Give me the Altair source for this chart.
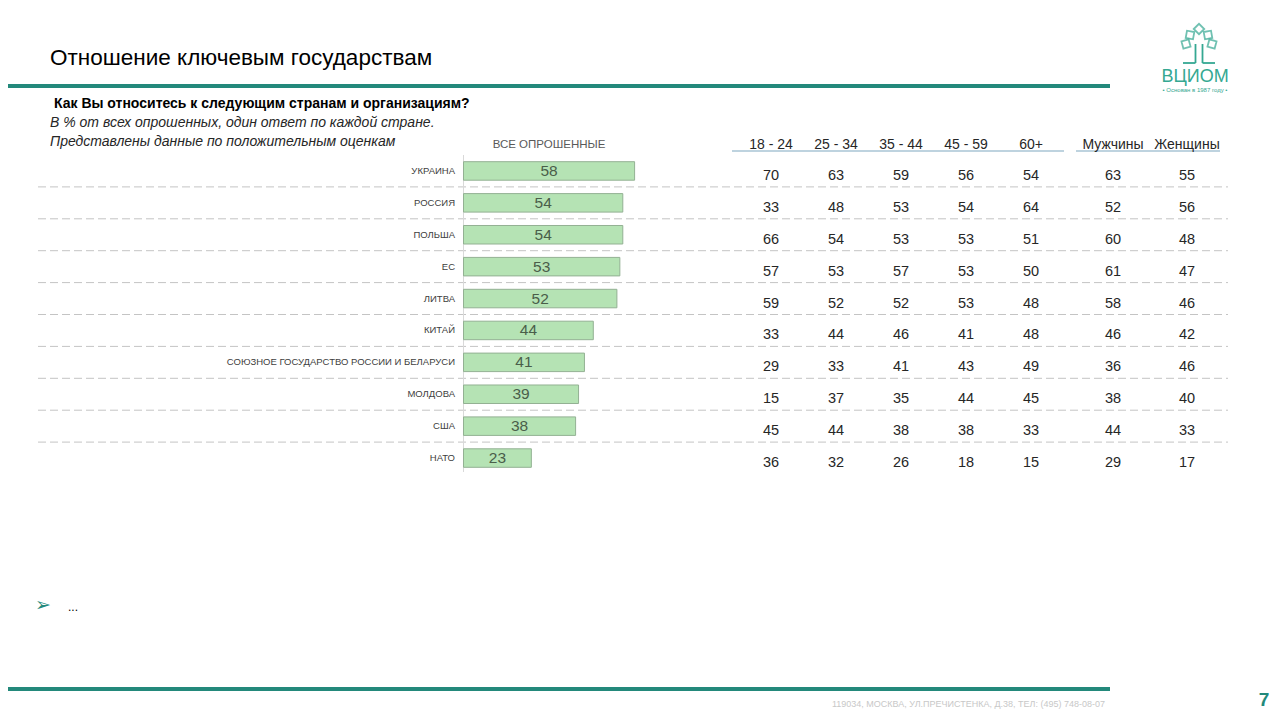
import altair as alt
import pandas as pd

# ---------------- data ----------------
countries = ["Украина", "Россия", "Польша", "ЕС", "Литва", "Китай",
             "Союзное государство России и Беларуси", "Молдова", "США", "НАТО"]
total = [58, 54, 54, 53, 52, 44, 41, 39, 38, 23]

age_groups = ["18 - 24", "25 - 34", "35 - 44", "45 - 59", "60+"]
age_18_24 = [70, 33, 66, 57, 59, 33, 29, 15, 45, 36]
age_25_34 = [63, 48, 54, 53, 52, 44, 33, 37, 44, 32]
age_35_44 = [59, 53, 53, 57, 52, 46, 41, 35, 38, 26]
age_45_59 = [56, 54, 53, 53, 53, 41, 43, 44, 38, 18]
age_60p = [54, 64, 51, 50, 48, 48, 49, 45, 33, 15]

sex_groups = ["Мужчины", "Женщины"]
men = [63, 52, 60, 61, 58, 46, 36, 38, 44, 29]
women = [55, 56, 48, 47, 46, 42, 46, 40, 33, 17]

title = "Отношение ключевым государствам"
question = "Как Вы относитесь к следующим странам и организациям?"
note1 = "В % от всех опрошенных, один ответ по каждой стране."
note2 = "Представлены данные по положительным оценкам"
total_header = "ВСЕ ОПРОШЕННЫЕ"
footer = "119034,  МОСКВА, УЛ.ПРЕЧИСТЕНКА, Д.38, ТЕЛ: (495) 748-08-07"

# ---------------- tables ----------------
df = pd.DataFrame({"country": countries, "total": total})
age_cols = [age_18_24, age_25_34, age_35_44, age_45_59, age_60p]
age_df = pd.DataFrame([
    {"country": c, "group": g, "value": col[i]}
    for g, col in zip(age_groups, age_cols)
    for i, c in enumerate(countries)
])
sex_df = pd.DataFrame([
    {"country": c, "group": g, "value": col[i]}
    for g, col in zip(sex_groups, [men, women])
    for i, c in enumerate(countries)
])
sep_df = pd.DataFrame({"country": countries[:-1]})
one = pd.DataFrame({"a": [0]})

FONT = "Liberation Sans"
TEAL = "#23897b"
LOGO = "#35a892"
O = 8  # page margin offset

yscale = alt.Scale(domain=countries, range=[147, 466], paddingInner=0.42, paddingOuter=0.21)
xbar = alt.Scale(domain=[0, 100], range=[455.5, 750.5])
xage = alt.Scale(type="point", domain=age_groups, range=[763, 1023], padding=0)
xsex = alt.Scale(type="point", domain=sex_groups, range=[1105, 1179], padding=0)
Y = alt.Y("country:N", scale=yscale, axis=None)


def hrule(x1, x2, y, color, width, dash=None):
    kw = dict(color=color, strokeWidth=width)
    if dash:
        kw["strokeDash"] = dash
    return alt.Chart(one).mark_rule(**kw).encode(
        x=alt.value(x1 - O), x2=alt.value(x2 - O), y=alt.value(y - O))


def vrule(x, y1, y2, color, width):
    return alt.Chart(one).mark_rule(color=color, strokeWidth=width).encode(
        x=alt.value(x - O), y=alt.value(y1 - O), y2=alt.value(y2 - O))


def txt(text, x, y, size, color="#000000", align="left", font=FONT,
        weight="normal", style="normal", baseline="alphabetic"):
    return alt.Chart(one).mark_text(
        text=text, align=align, baseline=baseline, fontSize=size, font=font,
        fontWeight=weight, fontStyle=style, color=color
    ).encode(x=alt.value(x - O), y=alt.value(y - O))


layers = []

# header texts & lines
layers += [
    txt(title, 50, 65, 22.5, "#000000"),
    hrule(0, 1110, 86, TEAL, 4),
    txt(question, 54, 108, 14, "#000000", weight="bold"),
    txt(note1, 50, 127, 14, "#262626", style="italic"),
    txt(note2, 50, 146, 14, "#262626", style="italic"),
    txt(total_header, 549, 148, 11.5, "#595959", align="center"),
    hrule(732, 1064, 151, "#a9c4d4", 1.5),
    hrule(1076, 1220, 151, "#a9c4d4", 1.5),
]

# logo
leaf = alt.Chart(pd.DataFrame({
    "lx": [1199, 1190, 1208, 1186, 1212],
    "ly": [29, 35, 35, 44, 44],
    "ang": [0, -35, 35, -60, 60],
})).mark_point(shape="diamond", filled=False, color=LOGO, strokeWidth=1.8, size=110).encode(
    x=alt.X("lx:Q", scale=alt.Scale(domain=[0, 1264], range=[-O, 1264 - O]), axis=None),
    y=alt.Y("ly:Q", scale=alt.Scale(domain=[0, 704], range=[-O, 704 - O]), axis=None),
    angle=alt.Angle("ang:Q", scale=None),
)
layers += [
    leaf,
    vrule(1195.5, 44, 63, LOGO, 1.8),
    vrule(1202.5, 44, 63, LOGO, 1.8),
    hrule(1183, 1195.5, 63, LOGO, 1.8),
    hrule(1202.5, 1215, 63, LOGO, 1.8),
    txt("ВЦИОМ", 1195, 82, 18, LOGO, align="center"),
    txt("• Основан в 1987 году •", 1195, 92, 6, LOGO, align="center"),
]

# separators and axis line
layers += [
    alt.Chart(sep_df).mark_rule(color="#c4c4c4", strokeWidth=1, strokeDash=[8, 4]).encode(
        y=Y, yOffset=alt.value(25.2), x=alt.value(38 - O), x2=alt.value(1228 - O)),
    vrule(463.5, 155, 472, "#d9d9d9", 1),
]

# bars
layers += [
    alt.Chart(df).mark_bar(fill="#b5e3b4", stroke="#93b193", strokeWidth=1).encode(
        x=alt.X("total:Q", scale=xbar, axis=None), y=Y),
    alt.Chart(df).transform_calculate(mid="datum.total / 2").mark_text(
        fontSize=15.5, font=FONT, color="#4a5e4a", baseline="middle").encode(
        x=alt.X("mid:Q", scale=xbar, axis=None), y=Y, text=alt.Text("total:Q")),
    alt.Chart(df).transform_calculate(lab="upper(datum.country)").mark_text(
        fontSize=9.5, font=FONT, color="#404040", align="right", baseline="middle").encode(
        x=alt.value(455 - O), y=Y, text="lab:N"),
]

# table
layers += [
    alt.Chart(age_df).mark_text(fontSize=14.5, font=FONT, color="#262626",
                                baseline="middle", dy=5).encode(
        x=alt.X("group:N", scale=xage, axis=None), y=Y, text="value:Q"),
    alt.Chart(pd.DataFrame({"group": age_groups})).mark_text(
        fontSize=14, font=FONT, color="#262626", baseline="alphabetic").encode(
        x=alt.X("group:N", scale=xage, axis=None), y=alt.value(149 - O), text="group:N"),
    alt.Chart(sex_df).mark_text(fontSize=14.5, font=FONT, color="#262626",
                                baseline="middle", dy=5).encode(
        x=alt.X("group:N", scale=xsex, axis=None), y=Y, text="value:Q"),
    alt.Chart(pd.DataFrame({"group": sex_groups})).mark_text(
        fontSize=14, font=FONT, color="#262626", baseline="alphabetic").encode(
        x=alt.X("group:N", scale=xsex, axis=None), y=alt.value(149 - O), text="group:N"),
]

# bottom
layers += [
    txt("➢", 43, 611, 19, TEAL, align="center", font="DejaVu Sans"),
    txt("...", 68, 611, 12, "#000000"),
    hrule(0, 1110, 689, TEAL, 4),
    txt(footer, 1105, 707, 9, "#c8c8c8", align="right"),
    txt("7", 1264, 706, 19, TEAL, align="center", weight="bold"),
]

chart = alt.layer(*layers).resolve_scale(x="independent", y="shared").properties(
    width=1264, height=704, padding=0,
    autosize=alt.AutoSizeParams(type="none"),
    background="#ffffff",
).configure_view(stroke=None)

chart.save("out.html", embed_options={"renderer": "svg", "actions": False})
